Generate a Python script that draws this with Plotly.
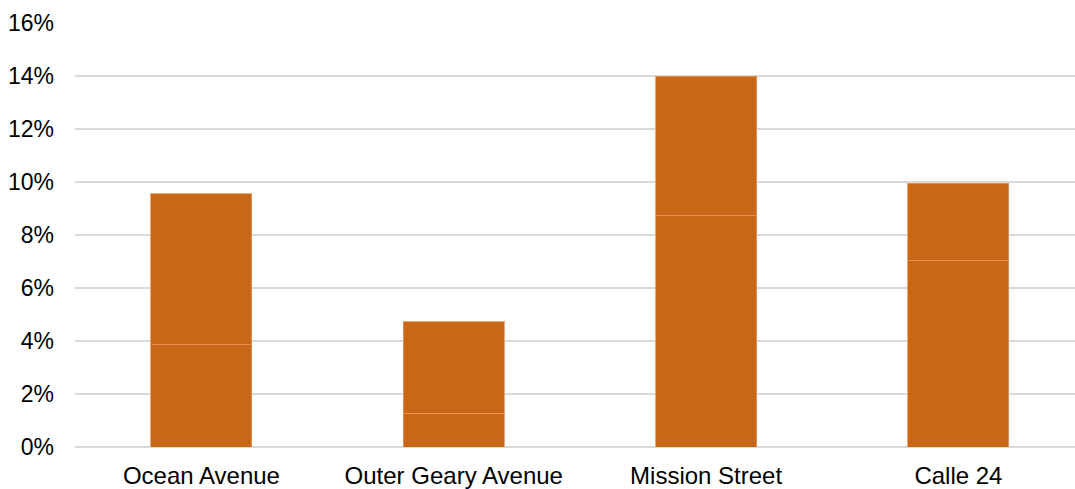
import plotly.graph_objects as go

# Share of respondents by corridor, split into two stacked components (percent)
corridors = ["Ocean Avenue", "Outer Geary Avenue", "Mission Street", "Calle 24"]
lower_part = [3.85, 1.28, 8.72, 7.02]
upper_part = [5.70, 3.44, 5.28, 2.94]
y_ticks = [0, 2, 4, 6, 8, 10, 12, 14, 16]
y_tick_labels = [f"{v}%" for v in y_ticks]

bar_color = "#C96719"
edge_color = "rgba(232,150,90,0.8)"

fig = go.Figure()
for part in (lower_part, upper_part):
    fig.add_trace(go.Bar(
        x=corridors,
        y=part,
        width=0.4,
        marker=dict(color=bar_color, line=dict(color=edge_color, width=1)),
        showlegend=False,
        hoverinfo="skip",
    ))

fig.update_layout(
    barmode="stack",
    width=1075,
    height=489,
    margin=dict(l=75, r=0, t=23, b=42),
    paper_bgcolor="white",
    plot_bgcolor="white",
    font=dict(family="Liberation Sans, Arial, sans-serif", size=23, color="#000000"),
)
fig.update_xaxes(
    range=[-0.501, 3.462],
    showgrid=False,
    showline=False,
    ticks="",
    ticklabelstandoff=12,
    tickfont=dict(size=24),
)
fig.update_yaxes(
    range=[0, 16],
    tickvals=y_ticks,
    ticktext=y_tick_labels,
    showgrid=True,
    gridcolor="#D9D9D9",
    gridwidth=2,
    zeroline=True,
    zerolinecolor="#D9D9D9",
    zerolinewidth=2,
    showline=False,
    ticks="",
    ticklabelstandoff=20,
    tickfont=dict(size=23),
)

fig.write_html("out.html")
